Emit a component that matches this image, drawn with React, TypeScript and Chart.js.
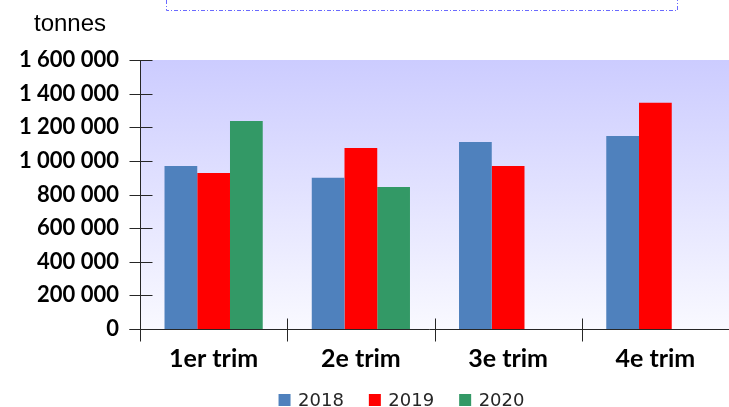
import React, { useEffect, useRef } from "react";
import { Chart, registerables } from "chart.js";

Chart.register(...registerables);

const categories = ["1er trim", "2e trim", "3e trim", "4e trim"];
const seriesNames = ["2018", "2019", "2020"];
const values2018 = [970000, 899000, 1113000, 1148000];
const values2019 = [928000, 1077000, 970000, 1345000];
const values2020: (number | null)[] = [1237000, 845000, null, null];
const seriesColors = ["#4f81bd", "#ff0000", "#339966"];
const yUnitLabel = "tonnes";
const yMax = 1600000;
const yStep = 200000;

const fmt = (v: number) =>
  String(Math.round(v)).replace(/\B(?=(\d{3})+(?!\d))/g, " ");

const decorPlugin = {
  id: "decor",
  beforeDatasetsDraw(chart: any) {
    const { ctx, chartArea } = chart;
    const g = ctx.createLinearGradient(0, chartArea.top, 0, chartArea.bottom);
    g.addColorStop(0, "#ccccff");
    g.addColorStop(1, "#f9f9ff");
    ctx.save();
    ctx.fillStyle = g;
    ctx.fillRect(chartArea.left, chartArea.top, chartArea.right - chartArea.left, chartArea.bottom - chartArea.top);
    ctx.restore();
  },
  afterDatasetsDraw(chart: any) {
    const { ctx, chartArea } = chart;
    const x = chart.scales.x;
    const y = chart.scales.y;
    ctx.save();
    ctx.strokeStyle = "#262626";
    ctx.lineWidth = 1;
    const L = Math.round(chartArea.left) + 0.5;
    const B = Math.round(y.getPixelForValue(0)) + 0.5;
    ctx.beginPath();
    ctx.moveTo(L, Math.round(y.getPixelForValue(yMax)));
    ctx.lineTo(L, B + 12);
    ctx.moveTo(L - 11, B);
    ctx.lineTo(chartArea.right, B);
    y.ticks.forEach((t: any) => {
      const py = Math.round(y.getPixelForValue(t.value)) + 0.5;
      ctx.moveTo(L - 11, py);
      ctx.lineTo(L + 12, py);
    });
    for (let i = 1; i < categories.length; i++) {
      const px = Math.round((x.getPixelForValue(i - 1) + x.getPixelForValue(i)) / 2) + 0.5;
      ctx.moveTo(px, B - 11);
      ctx.lineTo(px, B + 12);
    }
    ctx.stroke();
    ctx.restore();
  },
  afterDraw(chart: any) {
    const { ctx } = chart;
    ctx.save();
    ctx.fillStyle = "#000";
    ctx.font = "24px 'Liberation Sans', Arial, sans-serif";
    ctx.textBaseline = "alphabetic";
    ctx.textAlign = "left";
    ctx.fillText(yUnitLabel, 34, 31);

    ctx.strokeStyle = "#6a6aff";
    ctx.lineWidth = 1;
    ctx.setLineDash([4, 2, 1, 2]);
    ctx.beginPath();
    ctx.moveTo(166.5, 0);
    ctx.lineTo(166.5, 10.5);
    ctx.lineTo(677.5, 10.5);
    ctx.lineTo(677.5, 0);
    ctx.stroke();
    ctx.setLineDash([]);

    ctx.font = "18px 'DejaVu Sans', sans-serif";
    ctx.textBaseline = "middle";
    const box = 12;
    const gapText = 7.5;
    const gapItem = 25;
    const widths = seriesNames.map((n) => ctx.measureText(n).width);
    const total = widths.reduce((a, w) => a + box + gapText + w, 0) + gapItem * (seriesNames.length - 1);
    let cx = 401.5 - total / 2;
    const cy = 400;
    seriesNames.forEach((n, i) => {
      ctx.fillStyle = seriesColors[i];
      ctx.fillRect(cx, cy - box / 2, box, box);
      ctx.fillStyle = "#262626";
      ctx.fillText(n, cx + box + gapText, cy + 1);
      cx += box + gapText + widths[i] + gapItem;
    });
    ctx.restore();
  },
};

export default function App() {
  const ref = useRef<HTMLCanvasElement | null>(null);
  useEffect(() => {
    if (!ref.current) return;
    const chart = new Chart(ref.current, {
      type: "bar",
      data: {
        labels: categories,
        datasets: [
          { label: seriesNames[0], data: values2018, backgroundColor: seriesColors[0] },
          { label: seriesNames[1], data: values2019, backgroundColor: seriesColors[1] },
          { label: seriesNames[2], data: values2020, backgroundColor: seriesColors[2] },
        ],
      },
      options: {
        animation: false,
        responsive: true,
        maintainAspectRatio: false,
        layout: { padding: { top: 60, left: 0, right: 0, bottom: 0 } },
        datasets: { bar: { categoryPercentage: 0.667, barPercentage: 1, borderWidth: 0 } },
        plugins: { legend: { display: false }, title: { display: false }, tooltip: { enabled: false } },
        scales: {
          x: {
            grid: { display: false, drawTicks: false },
            border: { display: false },
            ticks: {
              padding: 15,
              color: "#000",
              font: { family: "Lato, 'Open Sans', sans-serif", size: 25, weight: "bold" },
              maxRotation: 0,
            },
            afterFit: (s: any) => {
              s.height = 78;
            },
          },
          y: {
            min: 0,
            max: yMax,
            grid: { display: false, drawTicks: false },
            border: { display: false },
            ticks: {
              stepSize: yStep,
              padding: 21,
              color: "#000",
              font: { family: "Lato, 'Open Sans', sans-serif", size: 22, weight: "bold" },
              callback: (v: any) => fmt(Number(v)),
            },
            afterFit: (s: any) => {
              s.width = 140;
            },
          },
        },
      },
      plugins: [decorPlugin],
    });
    return () => chart.destroy();
  }, []);
  return (
    <div style={{ position: "fixed", left: 0, top: 0, width: 729, height: 407 }}>
      <canvas ref={ref} />
    </div>
  );
}
